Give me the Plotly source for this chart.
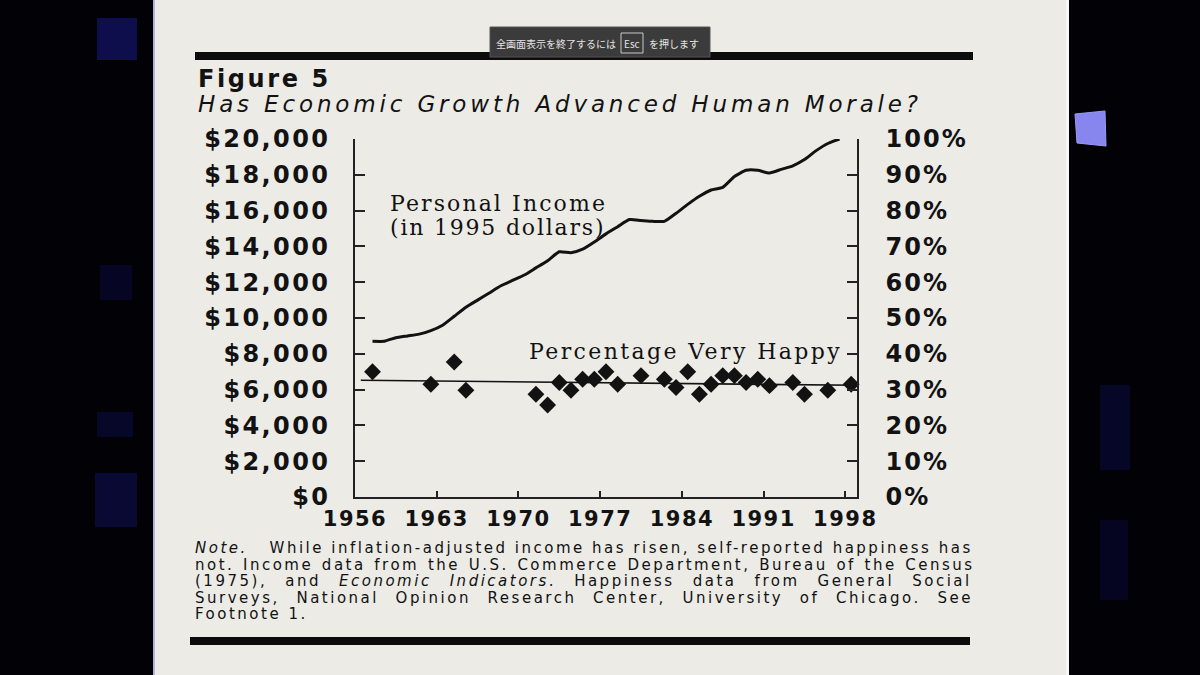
import plotly.graph_objects as go

# ---------------- data ----------------
income_years = list(range(1957, 1998))
income_values = [8700, 8700, 8900, 9000, 9100, 9300, 9600, 10100, 10600, 11000,
                 11400, 11800, 12100, 12400, 12800, 13200, 13700, 13650, 13850, 14250,
                 14700, 15100, 15500, 15450, 15400, 15400, 15850, 16350, 16800, 17150,
                 17300, 17900, 18250, 18250, 18100, 18300, 18500, 18850, 19350, 19750,
                 20000]

happy_years = [1957, 1962, 1964, 1965, 1971, 1972, 1973, 1974, 1975, 1976, 1977,
               1978, 1980, 1982, 1983, 1984, 1985, 1986, 1987, 1988, 1989, 1990,
               1991, 1993, 1994, 1996, 1998]
happy_pct = [35.0, 31.5, 37.7, 29.8, 28.7, 25.7, 32.0, 29.8, 32.9, 32.9, 35.0,
             31.5, 33.9, 32.9, 30.6, 35.0, 28.7, 31.5, 33.9, 33.9, 32.0, 32.9,
             31.1, 32.0, 28.7, 29.8, 31.5]

trend_years = [1956, 1998.5]
trend_pct = [32.6, 31.2]

year_ticks = [1956, 1963, 1970, 1977, 1984, 1991, 1998]
income_ticks = [0, 2000, 4000, 6000, 8000, 10000, 12000, 14000, 16000, 18000, 20000]
pct_ticks = [0, 10, 20, 30, 40, 50, 60, 70, 80, 90, 100]

# ---------------- styling helpers ----------------
W, H = 1200, 675
INK = "#121212"
PAGE = "#ecebe6"


def px(x):
    return x / W


def py(y):
    return 1 - y / H


def spaced(t, ls, ws=0):
    st = f"letter-spacing:{ls}px"
    if ws:
        st += f";word-spacing:{ws}px"
    return f'<span style="{st}">{t}</span>'


fig = go.Figure()

fig.add_trace(go.Scatter(x=income_years, y=income_values, mode="lines",
                         line=dict(color=INK, width=3, shape="spline", smoothing=0.5),
                         yaxis="y", hoverinfo="skip", showlegend=False))
fig.add_trace(go.Scatter(x=trend_years, y=trend_pct, mode="lines",
                         line=dict(color=INK, width=1.6),
                         yaxis="y2", hoverinfo="skip", showlegend=False))
fig.add_trace(go.Scatter(x=happy_years, y=happy_pct, mode="markers",
                         marker=dict(symbol="diamond", size=13, color=INK),
                         yaxis="y2", cliponaxis=False, hoverinfo="skip", showlegend=False))

tickfont = dict(family="DejaVu Sans", size=24, color=INK, weight="bold")

fig.update_layout(
    template="none",
    width=W, height=H,
    margin=dict(l=0, r=0, t=0, b=0, pad=0, autoexpand=False),
    paper_bgcolor="#020206",
    plot_bgcolor="rgba(0,0,0,0)",
    xaxis=dict(domain=[px(355), px(857)], range=[1955.5, 1998.5], automargin=False,
               tickvals=[t - 0.5 for t in year_ticks],
               ticktext=[spaced(str(t), 1.5) for t in year_ticks],
               ticks="inside", ticklen=6, tickwidth=1.5, tickcolor="#222",
               showline=True, linecolor="#222", linewidth=1.6,
               showgrid=False, zeroline=False,
               tickfont=dict(family="DejaVu Sans", size=21, color=INK, weight="bold"),
               ticklabelstandoff=2),
    yaxis=dict(domain=[py(497), py(139)], range=[0, 20000], automargin=False,
               tickvals=income_ticks,
               ticktext=[spaced(f"${v:,}", 2.4) for v in income_ticks],
               ticks="inside", ticklen=10, tickwidth=1.5, tickcolor="#222",
               showline=True, linecolor="#222", linewidth=1.6,
               showgrid=False, zeroline=False, tickfont=tickfont,
               ticklabelstandoff=18),
    yaxis2=dict(overlaying="y", side="right", anchor="x", range=[0, 100], automargin=False,
                tickvals=pct_ticks,
                ticktext=[spaced(f"{v}%", 2) for v in pct_ticks],
                ticks="inside", ticklen=10, tickwidth=1.5, tickcolor="#222",
                showline=True, linecolor="#222", linewidth=1.6,
                showgrid=False, zeroline=False, tickfont=tickfont,
                ticklabelstandoff=22),
)

# ---------------- background: screen photo ----------------
shapes = []


def rect(x0, y0, x1, y1, fill, line=None, lw=0, layer="below"):
    shapes.append(dict(type="rect", xref="paper", yref="paper",
                       x0=px(x0), x1=px(x1), y0=py(y1), y1=py(y0),
                       fillcolor=fill, line=dict(color=line or fill, width=lw),
                       layer=layer))


# page
rect(154, 0, 1068, 675, PAGE)
# faint bluish page edges
rect(153, 0, 155, 675, "#b4b2de")
rect(1066, 0, 1069, 675, "#f6f6f4")
# faint blue reflections on the black frame
rect(97, 18, 137, 60, "#0e0e4c")
rect(97, 412, 133, 437, "#07072a")
rect(95, 473, 137, 527, "#090934")
rect(100, 265, 132, 300, "#060624")
rect(1100, 385, 1130, 470, "#060626")
rect(1100, 520, 1128, 600, "#050522")
# lavender blob at the right
shapes.append(dict(type="path", xref="paper", yref="paper",
                   path=f"M {px(1075)} {py(114)} L {px(1105)} {py(111)} L {px(1106)} {py(146)} L {px(1077)} {py(143)} Z",
                   fillcolor="#8686ee", line=dict(color="#9a9af4", width=1), layer="below"))
# black rules of the printed figure
rect(195, 52, 973, 60, "#0c0c0c")
rect(190, 637, 970, 645, "#0c0c0c")
# full-screen overlay
rect(490, 27, 710, 57, "#3b3b3b", line="#555555", lw=1, layer="above")
rect(621, 33, 643, 53, "#3b3b3b", line="#c8c8c8", lw=1, layer="above")

fig.update_layout(shapes=shapes)

# ---------------- texts ----------------
anns = []


def ann(text, x, y, size, family="DejaVu Sans", xanchor="left", weight="normal",
        style="normal", color=INK, ls=0, ws=0):
    t = spaced(text, ls, ws) if (ls or ws) else text
    anns.append(dict(text=t, x=px(x), y=py(y), xref="paper", yref="paper",
                     xanchor=xanchor, yanchor="middle", showarrow=False,
                     font=dict(family=family, size=size, color=color,
                               weight=weight, style=style)))


ann("Figure 5", 196, 79, 24, weight="bold", ls=2.6)
ann("Has Economic Growth Advanced Human Morale?", 196, 104, 23, style="italic", ls=3.85)

ann("Personal Income", 388, 204, 22, family="DejaVu Serif", ls=2.1)
ann("(in 1995 dollars)", 388, 228, 22, family="DejaVu Serif", ls=1.8)
ann("Percentage Very Happy", 527, 352, 22, family="DejaVu Serif", ls=2.4)

note_lines = [
    "<i>Note.</i>   While inflation-adjusted income has risen, self-reported happiness has",
    "not. Income data from the U.S. Commerce Department, Bureau of the Census",
    "(1975), and <i>Economic Indicators</i>. Happiness data from General Social",
    "Surveys, National Opinion Research Center, University of Chicago. See",
    "Footnote 1.",
]
note_y = [548, 565, 581, 598, 614]
note_ws = [0, 1.4, 10.8, 9.4, 0]
for line, yy, ws in zip(note_lines, note_y, note_ws):
    ann(line, 193, yy, 15, ls=2.5, ws=ws)

# overlay texts
anns.append(dict(text="全画面表示を終了するには", x=px(618), y=py(43), xref="paper", yref="paper",
                 xanchor="right", yanchor="middle", showarrow=False,
                 font=dict(family="Noto Sans CJK JP", size=10, color="#e4e4e4")))
anns.append(dict(text="Esc", x=px(632), y=py(43), xref="paper", yref="paper",
                 xanchor="center", yanchor="middle", showarrow=False,
                 font=dict(family="Noto Sans CJK JP", size=10, color="#e4e4e4")))
anns.append(dict(text="を押します", x=px(647), y=py(43), xref="paper", yref="paper",
                 xanchor="left", yanchor="middle", showarrow=False,
                 font=dict(family="Noto Sans CJK JP", size=10, color="#e4e4e4")))

fig.update_layout(annotations=anns)

fig.write_html("out.html",
               config={"displayModeBar": False},
               post_script="document.body.style.margin='0px';document.body.style.background='#020206';")
